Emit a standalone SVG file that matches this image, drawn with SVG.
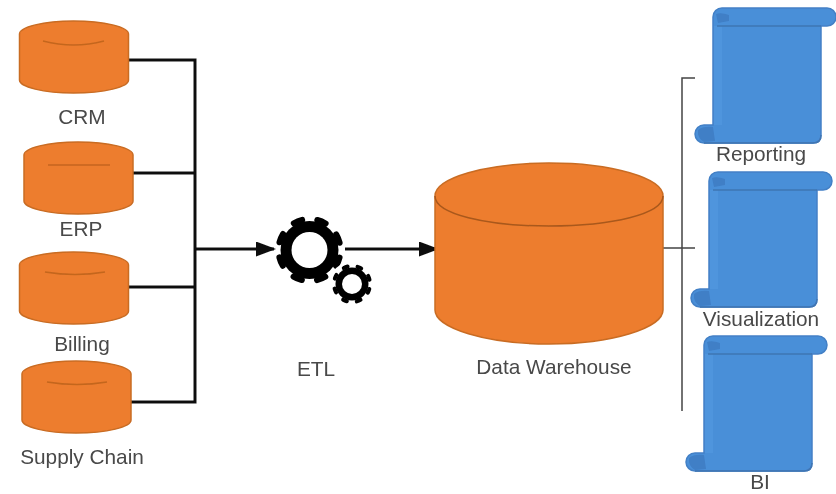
<svg xmlns="http://www.w3.org/2000/svg" width="836" height="494" viewBox="0 0 836 494">
<style>
.t{font-family:"Liberation Sans",Arial,sans-serif;font-size:20.8px;fill:#484848;text-anchor:middle}
.cyl{fill:#ed7d2e;stroke:#c96c24;stroke-width:1.5}
.arc{fill:none;stroke:#c4661f;stroke-width:1.5}
.link{fill:none;stroke:#111;stroke-width:3}
.br{fill:none;stroke:#444;stroke-width:1.5}
.sc{fill:#4a8fd8;stroke:#4380c6;stroke-width:1.5}
.scl{fill:none;stroke:#3f75b3;stroke-width:1.5}
.scd{fill:#3f7fc6}
.sch{fill:#4f95dd}
</style>
<defs>
<filter id="b" x="-5%" y="-5%" width="110%" height="110%"><feGaussianBlur stdDeviation="0.7"/></filter>
<marker id="ah" viewBox="0 0 10 10" refX="9" refY="5" markerWidth="20" markerHeight="15" markerUnits="userSpaceOnUse" orient="auto" preserveAspectRatio="none"><path d="M0,0L10,5L0,10Z" fill="#111"/></marker>
<path id="cy" d="M0,13 C0,6 24,0 54,0 C85,0 109,6 109,13 L109,59 C109,66 85,72 54,72 C24,72 0,66 0,59 Z"/>
<g id="scroll">
<path class="sc" d="M18,9 A9,9 0 0 1 27,0 L132,0 A9,9 0 0 1 132,18 L126,18 L126,127 Q126,135 118,135 L9,135 A9,9 0 0 1 9,117 L18,117 Z"/>
<rect class="sch" x="19" y="18" width="8" height="99"/>
<path class="scd" d="M21,6 Q26,4 34,7 L34,13 L23,15 Z"/>
<path class="scd" d="M3,122 Q8,118 18,119 L20,133 L9,134 Q2,130 3,122 Z"/>
<path class="scl" d="M22,18 L126,18M9,135H118Q126,135 126,127"/>
</g>
</defs>
<rect width="836" height="494" fill="#fff"/>
<g filter="url(#b)">
<g id="connectors">
<path class="link" d="M129,60H195V402H130"/>
<path class="link" d="M132,173H195"/>
<path class="link" d="M128,287H195"/>
<path class="link" d="M195,249H274" marker-end="url(#ah)"/>
<path class="link" d="M345,249H437" marker-end="url(#ah)"/>
<path class="br" d="M695,78H682V411M662,248H695"/>
</g>
<g id="crm"><use href="#cy" class="cyl" transform="translate(19.5,21)"/><path class="arc" d="M43,41Q74,49 104,41"/><text class="t" x="82" y="124">CRM</text></g>
<g id="erp"><use href="#cy" class="cyl" transform="translate(24,142)"/><path class="arc" d="M48,165H110"/><text class="t" x="81" y="236">ERP</text></g>
<g id="billing"><use href="#cy" class="cyl" transform="translate(19.5,252)"/><path class="arc" d="M45,272Q75,277 105,272"/><text class="t" x="82" y="351">Billing</text></g>
<g id="supply-chain"><use href="#cy" class="cyl" transform="translate(22,361)"/><path class="arc" d="M47,382Q77,387 107,382"/><text class="t" x="82" y="464">Supply Chain</text></g>
<g id="etl">
<circle cx="309.5" cy="250" r="31" fill="none" stroke="#000" stroke-width="6" stroke-linecap="round" stroke-dasharray="9 15.35" stroke-dashoffset="-7.67"/>
<circle cx="309.5" cy="250" r="29" fill="#000"/>
<circle cx="309.5" cy="250" r="18" fill="#fff"/>
<circle cx="352" cy="284" r="22.5" fill="#fff"/>
<circle cx="352" cy="284" r="18" fill="none" stroke="#000" stroke-width="4" stroke-linecap="round" stroke-dasharray="4 10.14" stroke-dashoffset="-5.07"/>
<circle cx="352" cy="284" r="16.5" fill="#000"/>
<circle cx="352" cy="284" r="10" fill="#fff"/>
<text class="t" x="316" y="376">ETL</text>
</g>
<g id="data-warehouse">
<path class="cyl" d="M435,196C435,178 486,163 549,163C612,163 663,178 663,196V310C663,328 612,344 549,344C486,344 435,328 435,310Z"/>
<path class="arc" style="stroke:#a9581c" d="M435,196C435,214 486,226 549,226C612,226 663,214 663,196"/>
<text class="t" x="554" y="374">Data Warehouse</text>
</g>
<g id="reporting"><use href="#scroll" transform="translate(695,8)"/><text class="t" x="761" y="161">Reporting</text></g>
<g id="visualization"><use href="#scroll" transform="translate(691,172)"/><text class="t" x="761" y="326">Visualization</text></g>
<g id="bi"><use href="#scroll" transform="translate(686,336)"/><text class="t" x="760" y="489">BI</text></g>
</g>
</svg>
